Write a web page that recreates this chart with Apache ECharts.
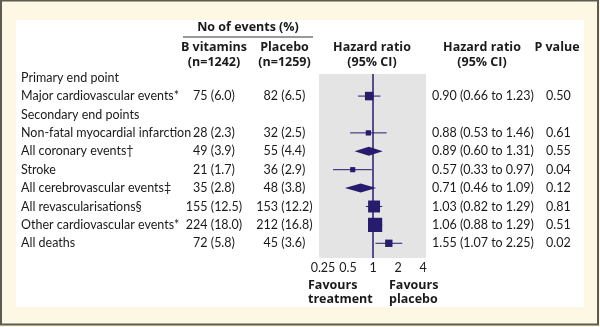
<!DOCTYPE html>
<html><head><meta charset="utf-8">
<script src="https://cdn.jsdelivr.net/npm/echarts@6/dist/echarts.min.js"></script>
<style>html,body{margin:0;padding:0;background:#fdf8e3}#c{width:600px;height:327px}</style>
</head><body><div id="c"></div>
<script>
// ---- data ----
const rowLabels = ['Primary end point', 'Major cardiovascular events*', 'Secondary end points',
  'Non-fatal myocardial infarction', 'All coronary events\u2020', 'Stroke',
  'All cerebrovascular events\u2021', 'All revascularisations\u00a7', 'Other cardiovascular events*', 'All deaths'];
const eventsB = [null, 75, null, 28, 49, 21, 35, 155, 224, 72];
const pctB    = [null, 6.0, null, 2.3, 3.9, 1.7, 2.8, 12.5, 18.0, 5.8];
const eventsP = [null, 82, null, 32, 55, 36, 48, 153, 212, 45];
const pctP    = [null, 6.5, null, 2.5, 4.4, 2.9, 3.8, 12.2, 16.8, 3.6];
const hazard  = [null, 0.90, null, 0.88, 0.89, 0.57, 0.71, 1.03, 1.06, 1.55];
const ciLow   = [null, 0.66, null, 0.53, 0.60, 0.33, 0.46, 0.82, 0.88, 1.07];
const ciHigh  = [null, 1.23, null, 1.46, 1.31, 0.97, 1.09, 1.29, 1.29, 2.25];
const pValues = [null, '0.50', null, '0.61', '0.55', '0.04', '0.12', '0.81', '0.51', '0.02'];
const markerType = [null, 'square', null, 'square', 'diamond', 'square', 'diamond', 'square', 'square', 'square'];
const tickValues = [0.25, 0.5, 1, 2, 4];
const tickLabels = ['0.25', '0.5', '1', '2', '4'];

// ---- chart ----
const FONT = 'Lato, "Open Sans", sans-serif';
const BFONT = '"Open Sans", Lato, sans-serif';
const FS = 12.5;
const NAVY = '#261b6c';
const TXT = '#1a1a1a';
const chart = echarts.init(document.getElementById('c'), null, {renderer: 'canvas'});

const seriesData = rowLabels.map((l, i) => [hazard[i] != null ? Math.log2(hazard[i]) : 0, i]);

function renderItem(params, api) {
  const i = params.dataIndex;
  const y = api.coord([0, i])[1];
  const children = [];
  const txt = (x, text, align) => ({
    type: 'text',
    style: {x: x, y: y, text: text, align: align || 'left', verticalAlign: 'middle',
      font: FS + 'px ' + FONT, fill: TXT}
  });
  children.push(txt(21, rowLabels[i]));
  if (hazard[i] != null) {
    children.push(txt(214, eventsB[i] + ' (' + pctB[i].toFixed(1) + ')', 'center'));
    children.push(txt(284.5, eventsP[i] + ' (' + pctP[i].toFixed(1) + ')', 'center'));
    children.push(txt(432, hazard[i].toFixed(2) + ' (' + ciLow[i].toFixed(2) + ' to ' + ciHigh[i].toFixed(2) + ')'));
    children.push(txt(546, pValues[i]));
    const lo = api.coord([Math.log2(ciLow[i]), i])[0];
    const hi = api.coord([Math.log2(ciHigh[i]), i])[0];
    const c = api.coord([Math.log2(hazard[i]), i])[0];
    if (markerType[i] === 'diamond') {
      children.push({type: 'polygon', shape: {points: [[lo, y], [c, y - 4.5], [hi, y], [c, y + 4.5]]},
        style: {fill: NAVY}});
    } else {
      children.push({type: 'line', shape: {x1: lo, y1: y, x2: hi, y2: y}, style: {stroke: NAVY, lineWidth: 1}});
      const s = 0.68 * Math.sqrt(eventsB[i] + eventsP[i]);
      children.push({type: 'rect', shape: {x: c - s / 2, y: y - s / 2, width: s, height: s}, style: {fill: NAVY}});
    }
  }
  return {type: 'group', children: children};
}

const hdr = (x, y, text, align) => ({
  type: 'text', x: x, y: y,
  style: {text: text, align: align || 'center', verticalAlign: 'middle', font: 'bold ' + FS + 'px ' + BFONT, fill: TXT}
});

chart.setOption({
  animation: false,
  grid: {left: 319, width: 107, top: 74, height: 184, show: true, backgroundColor: '#e4e4e4', borderWidth: 0, z: 1},
  xAxis: {
    type: 'value', min: -2.16, max: 2.12,
    axisLine: {show: false}, axisTick: {show: false}, splitLine: {show: false},
    axisLabel: {
      customValues: tickValues.map(Math.log2),
      formatter: v => tickLabels[tickValues.findIndex(t => Math.abs(Math.log2(t) - v) < 1e-6)],
      margin: 3, fontSize: FS, fontFamily: FONT, color: TXT
    }
  },
  yAxis: {type: 'value', min: -0.2, max: 9.8, inverse: true, show: false},
  graphic: [
    {type: 'rect', z: -10, shape: {x: 1, y: 0.5, width: 597, height: 324}, style: {fill: '#fdf8e3', stroke: '#5b5b52', lineWidth: 2}},
    {type: 'rect', z: -9, shape: {x: 16, y: 20, width: 568, height: 287}, style: {fill: '#ffffff'}},
    hdr(248, 27, 'No of events (%)'),
    {type: 'line', shape: {x1: 183, y1: 37, x2: 313, y2: 37}, style: {stroke: '#333', lineWidth: 1}},
    hdr(214, 47, 'B vitamins'), hdr(214, 62, '(n=1242)'),
    hdr(284.5, 47, 'Placebo'), hdr(284.5, 62, '(n=1259)'),
    hdr(372, 47, 'Hazard ratio'), hdr(372, 62, '(95% CI)'),
    hdr(482, 47, 'Hazard ratio'), hdr(482, 62, '(95% CI)'),
    hdr(557, 47, 'P value'),
    hdr(308, 285, 'Favours', 'left'), hdr(308, 299, 'treatment', 'left'),
    hdr(389, 285, 'Favours', 'left'), hdr(389, 299, 'placebo', 'left')
  ],
  series: [{
    type: 'custom', renderItem: renderItem, data: seriesData, z: 5,
    markLine: {
      silent: true, symbol: 'none', label: {show: false},
      lineStyle: {color: NAVY, width: 1.5, type: 'solid'},
      data: [{xAxis: 0}]
    }
  }]
});
</script>
</body></html>
